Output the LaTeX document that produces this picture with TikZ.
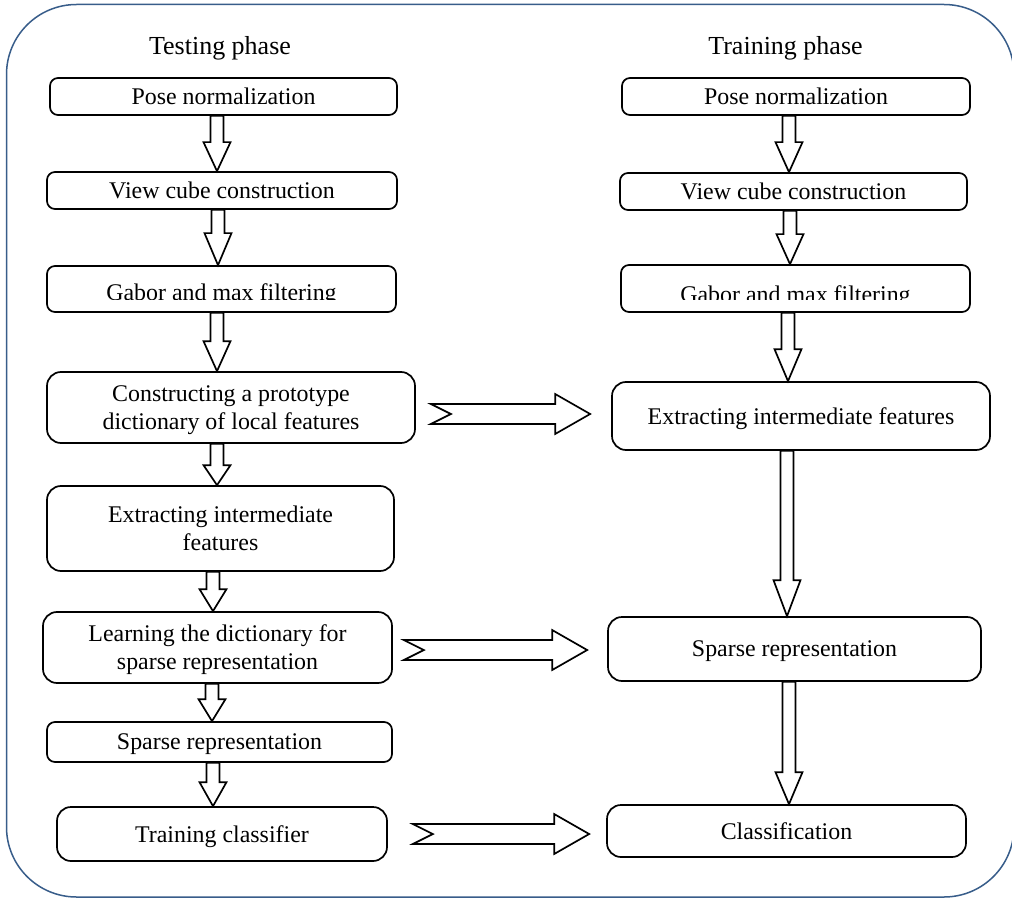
\documentclass[tikz,border=0pt]{standalone}
\usepackage{fontspec}
\setmainfont{Liberation Serif}
\usetikzlibrary{calc}

\definecolor{framecol}{RGB}{56,93,138}

\tikzset{
  stepbox/.style={draw, line width=1.7pt, rounded corners=8pt, inner sep=0pt,
    text depth=0pt, align=center, font=\fontsize{23.9}{28}\selectfont},
  bigbox/.style={stepbox, rounded corners=14pt},
  boxtext/.style={inner sep=0pt, anchor=base, font=\fontsize{23.9}{28}\selectfont},
  phase/.style={inner sep=0pt, anchor=base, font=\fontsize{26}{30}\selectfont},
  blockarr/.style={draw, fill=white, line width=1.7pt, line join=miter},
}

% hollow arrow going down from node #1 to node #2 at x = #3, head length #4
\newcommand{\downarr}[4]{%
  \draw[blockarr] let \p1=(#1.south), \p2=(#2.north), \p3=(#3,0) in
    (\x3-6.5pt,\y1) -- (\x3+6.5pt,\y1) -- (\x3+6.5pt,\y2+#4pt)
    -- (\x3+13.5pt,\y2+#4pt) -- (\x3,\y2) -- (\x3-13.5pt,\y2+#4pt)
    -- (\x3-6.5pt,\y2+#4pt) -- cycle;}

% notched arrow from node #1 to node #2 at y = #3, gaps #4 and #5
\newcommand{\sidearr}[5]{%
  \draw[blockarr] let \p1=(#1.east), \p2=(#2.west), \p3=(0,#3) in
    (\x1+#4pt,\y3+10pt) -- (\x2-#5pt-35pt,\y3+10pt) -- (\x2-#5pt-35pt,\y3+20pt)
    -- (\x2-#5pt,\y3) -- (\x2-#5pt-35pt,\y3-20pt) -- (\x2-#5pt-35pt,\y3-10pt)
    -- (\x1+#4pt,\y3-10pt) -- (\x1+#4pt+20pt,\y3) -- cycle;}

\begin{document}
\begin{tikzpicture}[x=1pt, y=-1pt]

\useasboundingbox (0,0) rectangle (1012,901);
\fill[white] (0,0) rectangle (1012,901);

% STEP 1: outer frame and the two titles
\draw[framecol, line width=1.5pt, rounded corners=70pt] (6.5,4.5) rectangle (1014,897);
\node[phase] (testtitle) at (220,55) {Testing phase};
\node[phase] (traintitle) at (785.5,55) {Training phase};

% STEP 2: testing phase boxes (left)
\node[stepbox, minimum width=347pt, minimum height=37pt] (tl1) at (223.5,96.5) {Pose normalization};
\node[stepbox, minimum width=350pt, minimum height=37pt] (tl2) at (222,190.5) {View cube construction};
\node[stepbox, minimum width=349pt, minimum height=46pt] (tl3) at (221.5,289) {};
\node[bigbox, minimum width=368pt, minimum height=71pt] (tl4) at (231,407.5)
  {Constructing a prototype\\dictionary of local features};
\node[bigbox, minimum width=347pt, minimum height=85pt] (tl5) at (220.5,528.5)
  {Extracting intermediate\\features};
\node[bigbox, minimum width=349pt, minimum height=71pt] (tl6) at (217.5,647.5)
  {Learning the dictionary for\\sparse representation};
\node[stepbox, minimum width=345pt, minimum height=40pt] (tl7) at (219.5,742) {Sparse representation};
\node[bigbox, minimum width=330pt, minimum height=54pt] (tl8) at (222,834) {Training classifier};

% STEP 3: training phase boxes (right)
\node[stepbox, minimum width=348pt, minimum height=37pt] (tr1) at (796,96.5) {Pose normalization};
\node[stepbox, minimum width=347pt, minimum height=37pt] (tr2) at (793.5,191.5) {View cube construction};
\node[stepbox, minimum width=349pt, minimum height=47pt] (tr3) at (795.5,288.5) {};
\node[bigbox, minimum width=378pt, minimum height=68pt] (tr4) at (801,416) {Extracting intermediate features};
\node[bigbox, minimum width=373pt, minimum height=64pt] (tr5) at (794.5,649) {Sparse representation};
\node[bigbox, minimum width=359pt, minimum height=52pt] (tr6) at (786.5,831) {Classification};

% STEP 4: the Gabor texts are cut off at the bottom
\begin{scope}
  \clip let \p1=(tl3.north west), \p2=(tl3.south east) in (\x1,\y1) rectangle (\x2,\y2+13pt);
  \node[boxtext] (tl3txt) at (221.5,301) {Gabor and max filtering};
\end{scope}
\begin{scope}
  \clip let \p1=(tr3.north west), \p2=(tr3.south east) in (\x1,\y1) rectangle (\x2,\y2+13pt);
  \node[boxtext] (tr3txt) at (795.5,302) {Gabor and max filtering};
\end{scope}

% STEP 5: hollow arrows down the columns
\downarr{tl1}{tl2}{217}{29}
\downarr{tl2}{tl3}{218}{32}
\downarr{tl3}{tl4}{217}{30}
\downarr{tl4}{tl5}{217}{20}
\downarr{tl5}{tl6}{213}{22}
\downarr{tl6}{tl7}{212}{22}
\downarr{tl7}{tl8}{213}{24}

\downarr{tr1}{tr2}{789}{30}
\downarr{tr2}{tr3}{790}{30}
\downarr{tr3}{tr4}{788}{32}
\downarr{tr4}{tr5}{787}{36}
\downarr{tr5}{tr6}{789}{32}

% STEP 6: notched arrows across
\sidearr{tl4}{tr4}{414}{15}{21}
\sidearr{tl6}{tr5}{650}{11}{20}
\sidearr{tl8}{tr6}{834}{25}{17}

\end{tikzpicture}
\end{document}
